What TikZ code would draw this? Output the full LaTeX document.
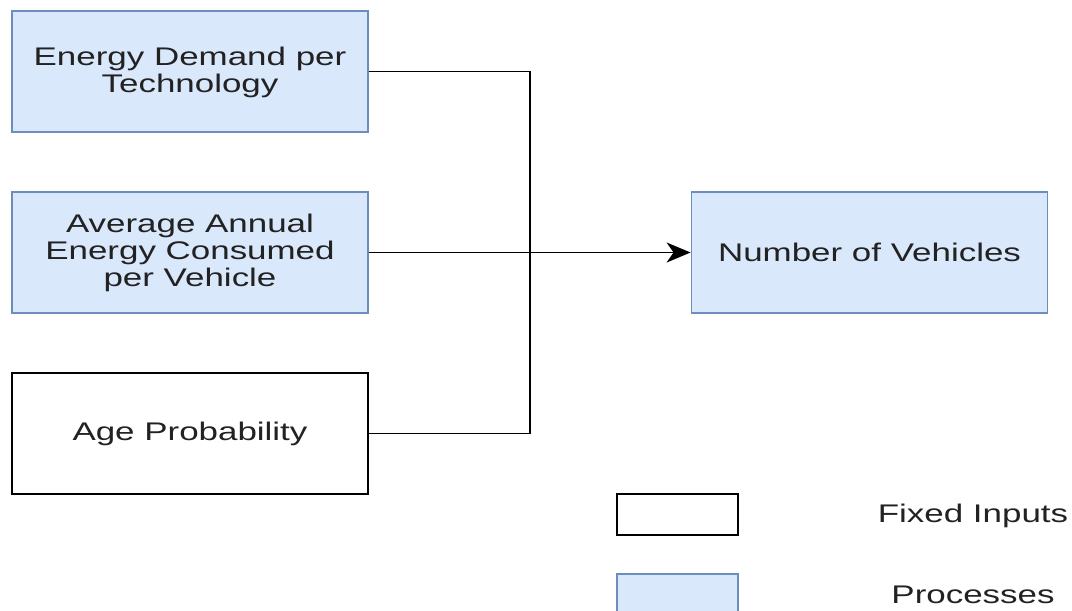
\documentclass[tikz,border=0pt]{standalone}
\usepackage{fontspec}
\setmainfont[FakeStretch=1.37]{Liberation Sans}
\usetikzlibrary{arrows.meta}
\definecolor{procfill}{HTML}{DAE8FC}
\definecolor{procdraw}{HTML}{6C8EBF}
\definecolor{txt}{HTML}{222222}
\begin{document}
\begin{tikzpicture}[x=1pt,y=-1pt,
  every node/.style={font=\fontsize{25.5}{27}\selectfont, text=txt, align=center},
  procbox/.style={draw=procdraw, fill=procfill, line width=1.8pt, minimum width=356pt, minimum height=121pt, inner sep=0pt},
  fixbox/.style={draw=black, fill=white, line width=1.8pt, minimum width=356pt, minimum height=121pt, inner sep=0pt},
  link/.style={line width=1.8pt, black}]
\useasboundingbox (0,0) rectangle (1072,611);
% input boxes
\node[procbox] (edt) at (190,71.5) {\rule{0pt}{20pt}Energy Demand per\\Technology};
\node[procbox] (aae) at (190,252.5) {Average Annual\\Energy Consumed\\per Vehicle};
\node[fixbox] (age) at (190,433.5) {Age Probability};
% output box
\node[procbox] (nov) at (869.5,252.5) {Number of Vehicles};
% connectors
\coordinate (j1) at (530,71.5);
\coordinate (j3) at (530,433.5);
\draw[link] (edt.east) -- (j1) -- (j3) -- (age.east);
\draw[link, -{Stealth[length=24pt,width=20pt,inset=7pt]}] (aae.east) -- (nov.west);
% legend
\node[fixbox, minimum width=121pt, minimum height=41pt] (lgfix) at (677.5,514.5) {};
\node[procbox, minimum width=121pt, minimum height=41pt] (lgproc) at (677.5,594.5) {};
\node (lgfixt) at (973,516) {Fixed Inputs};
\node (lgproct) at (973,595) {Processes};
\end{tikzpicture}
\end{document}
